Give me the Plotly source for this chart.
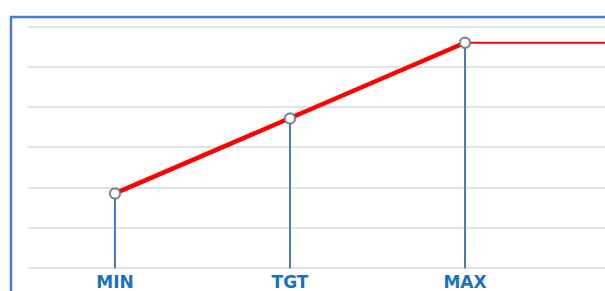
import plotly.graph_objects as go

# Data
categories = ["MIN", "TGT", "MAX"]
cat_x = [1, 2, 3]
values = [1.86, 3.72, 5.60]
cap_x = [3, 4.2]          # flat continuation after MAX
cap_values = [5.60, 5.60]
grid_levels = [0, 1, 2, 3, 4, 5, 6]

W, H = 605, 291
ml, mr, mt, mb = 28, 0, 0, 21
plot_w = W - ml - mr
plot_h = H - mt - mb
px_per_x = 175.0
px_per_y = 40.27
grid0_px = 268.3  # pixel row of y=0

x0 = 1 - (115 - ml) / px_per_x
x1 = x0 + plot_w / px_per_x
y_top = grid0_px / px_per_y
y_bot = y_top - plot_h / px_per_y

fig = go.Figure()

# vertical drop lines
for cx, v in zip(cat_x, values):
    fig.add_trace(go.Scatter(x=[cx, cx], y=[0, v], mode="lines",
                             line=dict(color="#4A78C8", width=2),
                             hoverinfo="skip", showlegend=False))

# flat continuation
fig.add_trace(go.Scatter(x=cap_x, y=cap_values, mode="lines",
                         line=dict(color="#FF0000", width=2),
                         hoverinfo="skip", showlegend=False))

# main rising line
fig.add_trace(go.Scatter(x=cat_x, y=values, mode="lines",
                         line=dict(color="#FF0000", width=4.5),
                         showlegend=False))

# marker shadow
fig.add_trace(go.Scatter(x=cat_x, y=values, mode="markers",
                         marker=dict(symbol="circle", size=13, color="rgba(0,0,0,0.18)",
                                     line=dict(width=0)),
                         hoverinfo="skip", showlegend=False))
# markers
fig.add_trace(go.Scatter(x=cat_x, y=values, mode="markers",
                         marker=dict(symbol="circle", size=10, color="white",
                                     line=dict(color="#7D8590", width=2)),
                         showlegend=False))

# frame border (extends beyond view)
fig.add_shape(type="rect", xref="paper", yref="paper",
              x0=(11 - ml) / plot_w, x1=1.2,
              y0=-0.3, y1=1 - (17 - mt) / plot_h,
              line=dict(color="#4A7BD4", width=2.5), fillcolor="rgba(0,0,0,0)",
              layer="above")

fig.update_layout(
    width=W, height=H,
    margin=dict(l=ml, r=mr, t=mt, b=mb, pad=0, autoexpand=False),
    paper_bgcolor="white", plot_bgcolor="white",
    xaxis=dict(range=[x0, x1], tickvals=cat_x, automargin=False,
               ticktext=[f"<b>{c}</b>" for c in categories],
               showgrid=False, zeroline=False, showline=False, ticks="",
               tickfont=dict(family="DejaVu Sans", size=17, color="#1C6FC0"),
               ticklabelstandoff=0),
    yaxis=dict(range=[y_bot, y_top], tickvals=grid_levels, showticklabels=False,
               automargin=False,
               showgrid=True, gridcolor="#E2E2E2", gridwidth=2,
               zeroline=False, showline=False, ticks=""),
)

fig.write_html("out.html", config={"displayModeBar": False},
               post_script="document.body.style.margin='0';document.body.style.overflow='hidden';")
